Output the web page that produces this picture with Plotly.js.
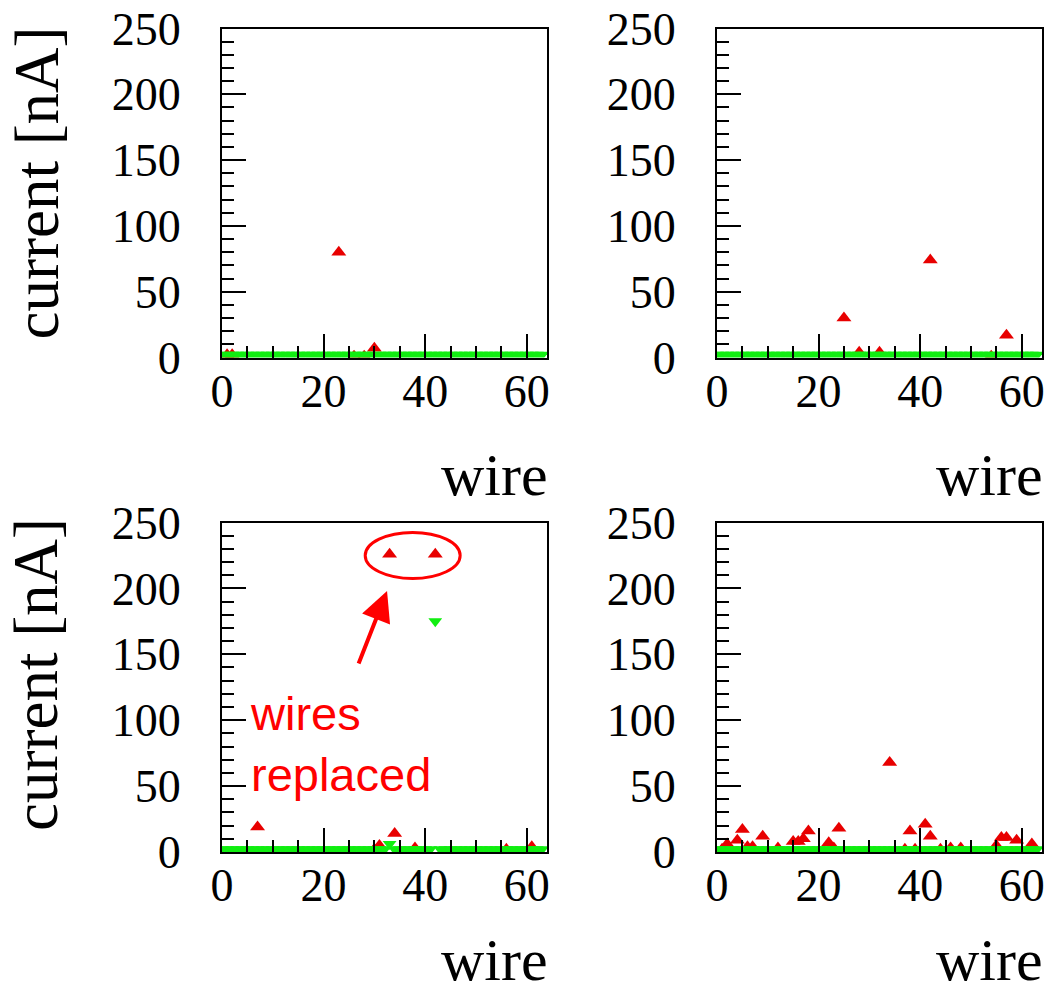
<!DOCTYPE html>
<html>
<head>
<meta charset="utf-8">
<script src="https://cdn.plot.ly/plotly-3.0.1.min.js"></script>
<style>html,body{margin:0;padding:0;background:#fff;}#chart{width:1049px;height:995px;}</style>
</head>
<body>
<div id="chart"></div>
<script>
// ---------------- data ----------------
const wires = [0,1,2,3,4,5,6,7,8,9,10,11,12,13,14,15,16,17,18,19,20,21,22,23,24,25,26,27,28,29,30,31,
               32,33,34,35,36,37,38,39,40,41,42,43,44,45,46,47,48,49,50,51,52,53,54,55,56,57,58,59,60,61,62,63];

// green (down triangles), one value per wire
const green1 = [2,2,2,2,2,2,2,2,2,2,2,2,2,2,2,2,2,2,2,2,2,2,2,2,2,2,2,2,2,2,2,2,
                2,2,2,2,2,2,2,2,2,2,2,2,2,2,2,2,2,2,2,2,2,2,2,2,2,2,2,2,2,2,2,2];
const green2 = [2,2,2,2,2,2,2,2,2,2,2,2,2,2,2,2,2,2,2,2,2,2,2,2,2,2,2,2,2,2,2,2,
                2,2,2,2,2,2,2,2,2,2,2,2,2,2,2,2,2,2,2,2,2,2,2,2,2,2,2,2,2,2,2,2];
const green3 = [2,2,2,2,2,2,2,2,2,2,2,2,2,2,2,2,2,2,2,2,2,2,2,2,2,2,2,2,2,2,2,2,
                2,6,2,2,2,2,2,2,2,2,175,2,2,2,2,2,2,2,2,2,2,2,2,2,2,2,2,2,2,2,2,2];
const green4 = [2,2,2,2,2,2,2,2,2,2,2,2,2,2,2,2,2,2,2,2,2,2,2,2,2,2,2,2,2,2,2,2,
                2,2,2,2,2,2,2,2,2,2,2,2,2,2,2,2,2,2,2,2,2,2,2,2,2,2,2,2,2,2,2,2];

// red (up triangles): wire and current
const red1Wire = [1, 2, 23, 26, 28, 30];
const red1Cur  = [2, 2, 80, 1, 1, 7];
const red2Wire = [25, 28, 32, 42, 54, 57];
const red2Cur  = [30, 4, 4, 74, 1, 17];
const red3Wire = [7, 30, 31, 33, 34, 38, 42, 56, 61];
const red3Cur  = [19, 2, 5, 226, 14, 3, 226, 2, 4];
const red4Wire = [1, 2, 4, 5, 6, 7, 9, 12, 15, 16, 17, 18, 22, 23, 24, 34, 37, 38, 39, 41, 42, 44, 46, 48, 55, 56, 57, 59, 62];
const red4Cur  = [2, 6, 9, 17, 4, 4, 12, 3, 8, 8, 10, 16, 7, 3, 18, 68, 2, 16, 2, 21, 12, 2, 3, 3, 5, 11, 11, 9, 6];

const xTickVals = [0, 20, 40, 60];
const xTickText = ['0', '20', '40', '60'];
const yTickVals = [0, 50, 100, 150, 200, 250];
const yTickText = ['0', '50', '100', '150', '200', '250'];

const xTitle = 'wire';
const yTitle = 'current [nA]';
const noteText = 'wires<br>replaced';

// ---------------- style ----------------
const RED = '#e80000';
const GREEN = '#11ee11';
const SERIF = 'Liberation Serif, Times New Roman, serif';
const W = 1049, H = 995;

function px(x){ return x / W; }
function py(y){ return (H - y) / H; }

const colDom = [[px(222), px(547)], [px(717), px(1042)]];
const rowDom = [[py(357.5), py(28.5)], [py(852), py(522.5)]];

function xAxis(dom, anchor){
  return {
    domain: dom, anchor: anchor, range: [0, 64],
    showline: true, linecolor: 'black', linewidth: 2, mirror: true,
    showgrid: false, zeroline: false,
    ticks: 'inside', ticklen: 24, tickwidth: 2, tickcolor: 'black',
    tickmode: 'array', tickvals: xTickVals, ticktext: xTickText,
    minor: {ticks: 'inside', ticklen: 12, tickwidth: 2, tickcolor: 'black', dtick: 5, tick0: 0, showgrid: false},
    tickfont: {family: SERIF, size: 46, color: 'black'},
    ticklabelstandoff: -8,
    fixedrange: true
  };
}
function yAxis(dom, anchor){
  return {
    domain: dom, anchor: anchor, range: [0, 250],
    showline: true, linecolor: 'black', linewidth: 2, mirror: true,
    showgrid: false, zeroline: false,
    ticks: 'inside', ticklen: 24, tickwidth: 2, tickcolor: 'black',
    tickmode: 'array', tickvals: yTickVals, ticktext: yTickText,
    minor: {ticks: 'inside', ticklen: 12, tickwidth: 2, tickcolor: 'black', dtick: 10, tick0: 0, showgrid: false},
    tickfont: {family: SERIF, size: 46, color: 'black'},
    ticklabelstandoff: 30,
    fixedrange: true
  };
}

const panels = [
  {xa: 'x',  ya: 'y',  rw: red1Wire, rc: red1Cur, g: green1},
  {xa: 'x2', ya: 'y2', rw: red2Wire, rc: red2Cur, g: green2},
  {xa: 'x3', ya: 'y3', rw: red3Wire, rc: red3Cur, g: green3},
  {xa: 'x4', ya: 'y4', rw: red4Wire, rc: red4Cur, g: green4}
];

const traces = [];
panels.forEach(p => {
  traces.push({
    type: 'scatter', mode: 'markers', x: p.rw, y: p.rc, xaxis: p.xa, yaxis: p.ya,
    marker: {symbol: 'triangle-up', size: 13, color: RED, line: {width: 0}},
    showlegend: false, hoverinfo: 'skip'
  });
  traces.push({
    type: 'scatter', mode: 'markers', x: wires, y: p.g, xaxis: p.xa, yaxis: p.ya,
    marker: {symbol: 'triangle-down', size: 12, color: GREEN, line: {width: 0}},
    showlegend: false, hoverinfo: 'skip'
  });
});

const annotations = [];
// y titles
[[36, 183.5], [36, 675]].forEach(([x, y]) => {
  annotations.push({xref: 'paper', yref: 'paper', x: px(x), y: py(y), xanchor: 'center', yanchor: 'middle',
    text: yTitle, textangle: -90, showarrow: false, font: {family: SERIF, size: 63, color: 'black'}});
});
// x titles
[[550, 475, 'middle'], [1045, 475, 'middle'], [550, 995, 'bottom'], [1045, 995, 'bottom']].forEach(([x, y, ya]) => {
  annotations.push({xref: 'paper', yref: 'paper', x: px(x), y: py(y), xanchor: 'right', yanchor: ya,
    text: xTitle, showarrow: false, font: {family: SERIF, size: 60, color: 'black'}});
});
// note
annotations.push({xref: 'paper', yref: 'paper', x: px(248), y: py(744), xanchor: 'left', yanchor: 'middle',
  align: 'left', text: noteText, showarrow: false,
  font: {family: 'Liberation Sans, Arial, sans-serif', size: 47, color: '#ff0000'}});
// arrow
annotations.push({xref: 'x3', yref: 'y3', x: 32.5, y: 198, ax: -29, ay: 74, axref: 'pixel', ayref: 'pixel',
  text: '', showarrow: true, arrowhead: 2, arrowsize: 1.5, arrowwidth: 4, arrowcolor: '#ff0000'});

const layout = {
  width: W, height: H, margin: {l: 0, r: 0, t: 0, b: 0},
  paper_bgcolor: 'white', plot_bgcolor: 'white',
  showlegend: false,
  xaxis:  xAxis(colDom[0], 'y'),  yaxis:  yAxis(rowDom[0], 'x'),
  xaxis2: xAxis(colDom[1], 'y2'), yaxis2: yAxis(rowDom[0], 'x2'),
  xaxis3: xAxis(colDom[0], 'y3'), yaxis3: yAxis(rowDom[1], 'x3'),
  xaxis4: xAxis(colDom[1], 'y4'), yaxis4: yAxis(rowDom[1], 'x4'),
  annotations: annotations,
  shapes: [{type: 'circle', xref: 'x3', yref: 'y3', x0: 28.2, x1: 46.9, y0: 207.5, y1: 242.5,
            line: {color: '#ff0000', width: 3}}]
};

Plotly.newPlot('chart', traces, layout, {staticPlot: true, displayModeBar: false});
</script>
</body>
</html>
